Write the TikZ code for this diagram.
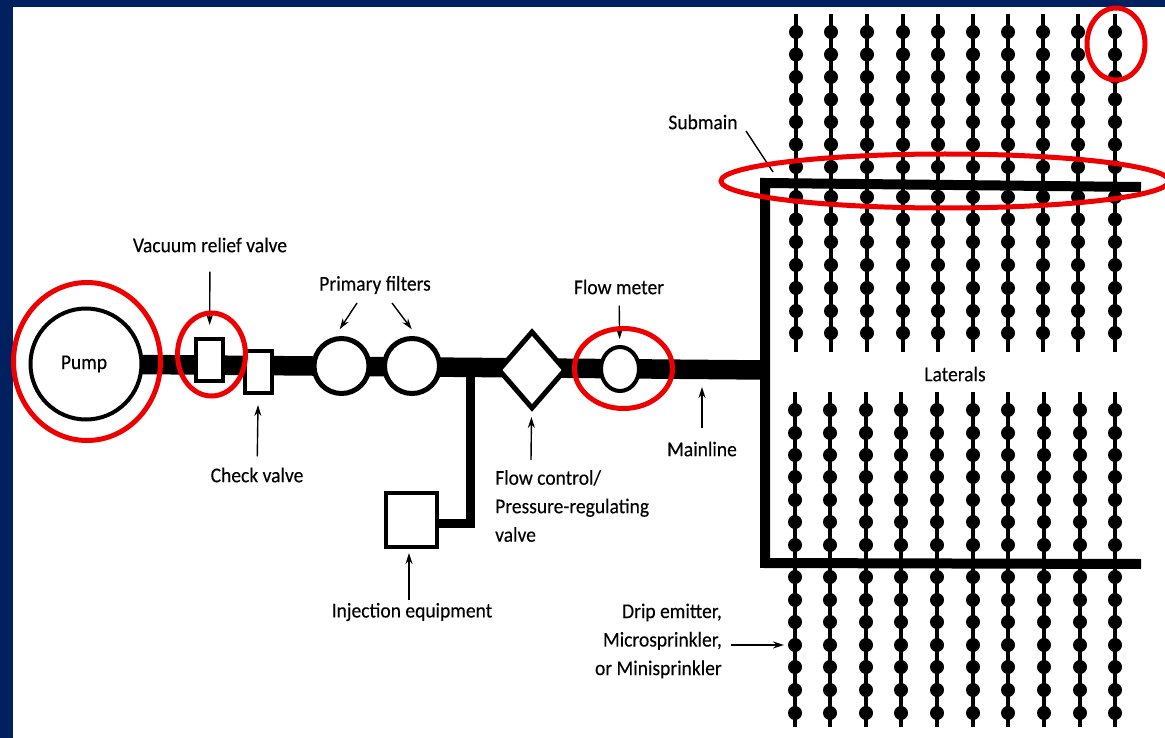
\documentclass[tikz,border=0pt]{standalone}
\usepackage{fontspec}
\setmainfont{Carlito}[FakeStretch=0.93,FakeBold=0.25]
\usetikzlibrary{shapes.geometric,backgrounds,arrows.meta}
\definecolor{slideblue}{HTML}{002060}
\definecolor{ringred}{HTML}{EE0000}
\tikzset{
  part/.style={draw=black, fill=white, inner sep=0pt},
  partlabel/.style={font=\fontsize{21}{28.5}\selectfont, inner sep=0pt},
  pointer/.style={-{Stealth[length=11pt,width=7pt]}, line width=1.4pt},
  ring/.style={draw=ringred, line width=5pt}
}
\begin{document}
\begin{tikzpicture}[x=1pt,y=-1pt]
    \useasboundingbox (0,0) rectangle (1165,738);
    \fill[slideblue] (0,0) rectangle (1165,7);
    \fill[slideblue] (0,0) rectangle (13,738);
    % laterals
    \foreach \topx/\lowx in {796/795,831/830,867/866,903/901,938/937,973/973,1008/1008,1043/1044,1078/1080,1115/1115} {
      \draw[line width=3.5pt] (\topx,14) -- (\topx,352);
      \draw[line width=3.5pt] (\lowx,392) -- (\lowx,727);
      \foreach \y in {32,54.5,77,99.5,122,144.5,167,197,219.5,242,265,288,311,333}
        \fill (\topx,\y) circle (7);
      \foreach \y in {410,433,455,477,500,522,545,577,600,622,645,667,690,713}
        \fill (\lowx,\y) circle (7);
    }
    % parts on the mainline
    \node[part, circle, line width=4pt, minimum size=111pt] (pump) at (86,364) {};
    \node[part, line width=4pt, minimum width=27pt, minimum height=42pt] (vacuum) at (209.5,360) {};
    \node[part, line width=4pt, minimum width=27pt, minimum height=42pt] (check) at (258.5,372) {};
    \node[part, circle, line width=5pt, minimum size=55pt] (filterone) at (341.5,366) {};
    \node[part, circle, line width=5pt, minimum size=55pt] (filtertwo) at (412,366) {};
    \node[part, diamond, line width=5pt, minimum width=68pt, minimum height=78pt] (flowcontrol) at (532,370) {};
    \node[part, ellipse, line width=4pt, minimum width=38pt, minimum height=44pt] (flowmeter) at (620,369) {};
    \node[part, line width=4pt, minimum width=51pt, minimum height=54pt] (injection) at (411.5,520) {};
    \coordinate (mainjoin) at (765,370);
    \coordinate (branchtop) at (470,367);
    \coordinate (branchelbow) at (470,523);
    \coordinate (submaintop) at (765,183);
    \coordinate (submaintopend) at (1141,187);
    \coordinate (submainlow) at (765,563);
    \coordinate (submainlowend) at (1141,564);
    \begin{scope}[on background layer]
      \draw[line width=19.5pt] (pump.center) -- (mainjoin);
      \draw[line width=9pt] (branchtop) -- (branchelbow) -- (injection.center |- branchelbow);
    \end{scope}
    \draw[line width=10pt, line join=miter] (submaintopend) -- (submaintop) -- (submainlow) -- (submainlowend);
    % labels
    \node[partlabel] (lblpump) at (84,364) {Pump};
    \node[partlabel] (lblvacuum) at (210,245) {Vacuum relief valve};
    \node[partlabel] (lblcheck) at (257,475) {Check valve};
    \node[partlabel] (lblfilters) at (375,285) {Primary filters};
    \node[partlabel] (lblmeter) at (619,287) {Flow meter};
    \node[partlabel] (lblinjection) at (412,612) {Injection equipment};
    \node[partlabel] (lblmainline) at (702,449) {Mainline};
    \node[partlabel] (lblsubmain) at (703,122) {Submain};
    \node[partlabel] (lbllaterals) at (955,374) {Laterals};
    \node[partlabel, align=left, anchor=west] (lblflow) at (495,506) {Flow control/\\Pressure-regulating\\valve};
    \node[partlabel, align=right, anchor=east] (lbldrip) at (722,641) {Drip emitter,\\Microsprinkler,\\or Minisprinkler};
    % pointers
    \coordinate (filteronetail) at (357,303);
    \coordinate (filtertwotail) at (392,303);
    \coordinate (flowtail) at (531,460);
    \coordinate (injectiontail) at (409,600);
    \coordinate (mainlinetail) at (702,428);
    \coordinate (mainlinetip) at (702,387);
    \coordinate (submaintail) at (746,131);
    \coordinate (submaintip) at (773,172);
    \coordinate (driptail) at (731,645);
    \coordinate (driptip) at (784,645);
    \draw[pointer, shorten <=19pt, shorten >=12pt] (lblvacuum) -- (vacuum);
    \draw[pointer, shorten <=11pt, shorten >=10pt] (lblcheck) -- (check);
    \draw[pointer, shorten >=9pt] (filteronetail) -- (filterone.103);
    \draw[pointer, shorten >=9pt] (filtertwotail) -- (filtertwo.80);
    \draw[pointer, shorten <=11pt, shorten >=6pt] (lblmeter) -- (flowmeter);
    \draw[pointer, shorten >=6pt] (flowtail) -- (flowcontrol);
    \draw[pointer] (mainlinetail) -- (mainlinetip);
    \draw[pointer, shorten >=4pt] (injectiontail) -- (injection.south -| injectiontail);
    \draw[line width=1.4pt] (submaintail) -- (submaintip);
    \draw[pointer] (driptail) -- (driptip);
    % red rings
    \draw[ring] (87,361.5) ellipse [x radius=73.5, y radius=79];
    \draw[ring] (211.5,354.5) ellipse [x radius=34, y radius=41.5];
    \draw[ring] (623.5,368.5) ellipse [x radius=49, y radius=40];
    \draw[ring] (1116,44) ellipse [x radius=29, y radius=36];
    \draw[ring] (945,181) ellipse [x radius=224, y radius=27];
  \end{tikzpicture}
\end{document}
